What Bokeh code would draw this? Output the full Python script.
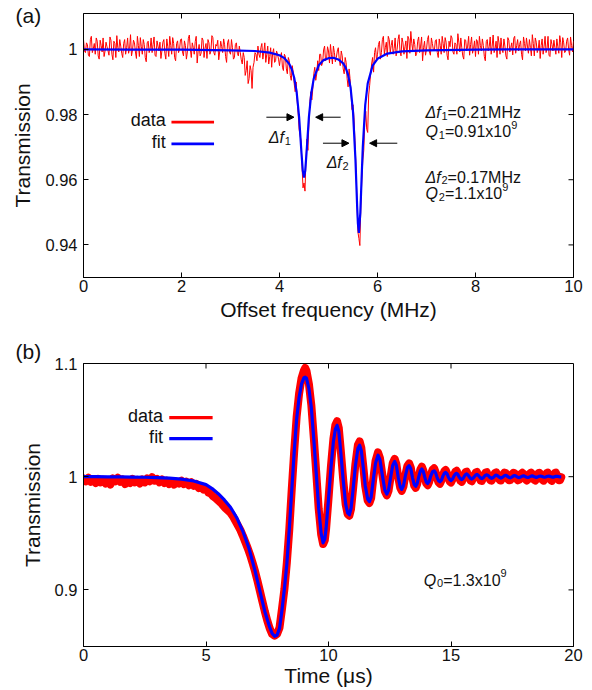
from bokeh.plotting import figure
from bokeh.layouts import column
from bokeh.models import FixedTicker, Label, Arrow, NormalHead, Range1d, Title
from bokeh.embed import file_html
from bokeh.resources import INLINE
import numpy as np

FONT = "Liberation Sans"
TXT = "#111111"

# ---------------- panel (a) data ----------------
x_ticks_a = [0, 2, 4, 6, 8, 10]
y_ticks_a = [0.94, 0.96, 0.98, 1.0]
y_tick_labels_a = ["0.94", "0.96", "0.98", "1"]

# measured transmission, sampled every 0.02 MHz from 0 to 10 MHz
data_trans_a = [
    1.0030, 0.9995, 0.9990, 1.0020, 1.0015, 0.9982, 0.9978, 1.0030, 1.0040, 0.9990, 1.0002, 1.0018, 0.9985, 1.0035, 1.0025, 0.9980, 0.9970, 1.0028, 1.0012, 0.9992,
    1.0035, 0.9978, 0.9995, 1.0022, 1.0008, 0.9996, 0.9982, 1.0038, 1.0028, 0.9985, 0.9968, 1.0025, 1.0018, 0.9975, 1.0042, 1.0005, 0.9992, 1.0030, 1.0010, 0.9988,
    0.9975, 1.0018, 1.0030, 0.9985, 1.0005, 1.0035, 0.9988, 1.0002, 1.0045, 0.9980, 0.9998, 1.0028, 1.0020, 0.9992, 0.9972, 1.0040, 1.0012, 0.9978, 1.0036, 1.0008,
    0.9985, 1.0030, 1.0015, 0.9975, 0.9962, 1.0020, 1.0025, 0.9990, 1.0002, 1.0035, 0.9990, 1.0015, 1.0038, 0.9982, 0.9978, 1.0026, 1.0010, 0.9995, 1.0022, 0.9972,
    0.9995, 1.0022, 1.0030, 0.9988, 0.9970, 1.0032, 1.0008, 0.9978, 1.0040, 1.0012, 0.9985, 1.0036, 1.0018, 0.9975, 0.9965, 1.0018, 1.0026, 0.9990, 1.0000, 1.0030,
    1.0032, 0.9992, 0.9980, 1.0026, 1.0012, 0.9970, 0.9992, 1.0034, 1.0044, 1.0000, 0.9975, 1.0020, 1.0006, 0.9985, 1.0024, 1.0040, 0.9958, 0.9996, 1.0015, 0.9980,
    0.9988, 1.0035, 1.0028, 0.9975, 1.0003, 1.0018, 0.9972, 1.0030, 1.0020, 0.9985, 0.9995, 1.0042, 1.0036, 0.9990, 0.9982, 1.0015, 1.0010, 1.0028, 0.9968, 0.9994,
    1.0025, 1.0008, 0.9990, 1.0032, 1.0014, 0.9978, 0.9960, 1.0020, 1.0030, 0.9992, 0.9985, 1.0030, 1.0005, 0.9970, 0.9975, 1.0015, 1.0020, 0.9988, 0.9980, 1.0010,
    0.9990, 0.9968, 0.9955, 0.9990, 0.9975, 0.9920, 0.9935, 0.9965, 0.9895, 0.9910, 0.9950, 0.9935, 0.9880, 0.9945, 0.9960, 0.9990, 0.9985, 0.9965, 1.0010, 0.9985,
    0.9975, 1.0005, 1.0018, 0.9970, 0.9992, 1.0020, 0.9960, 0.9985, 1.0010, 0.9955, 0.9978, 1.0005, 0.9945, 0.9988, 1.0002, 0.9960, 0.9965, 0.9995, 0.9985, 0.9970,
    0.9950, 0.9975, 0.9990, 0.9945, 0.9935, 0.9985, 0.9978, 0.9940, 0.9925, 0.9975, 0.9965, 0.9920, 0.9905, 0.9950, 0.9930, 0.9895, 0.9870, 0.9900, 0.9845, 0.9805,
    0.9755, 0.9735, 0.9720, 0.9640, 0.9575, 0.9590, 0.9565, 0.9660, 0.9725, 0.9690, 0.9770, 0.9840, 0.9870, 0.9845, 0.9880, 0.9925, 0.9945, 0.9905, 0.9925, 0.9965,
    0.9935, 0.9985, 0.9985, 0.9950, 0.9960, 0.9998, 1.0010, 0.9965, 0.9970, 1.0008, 0.9995, 0.9958, 1.0015, 0.9985, 0.9955, 1.0010, 0.9990, 0.9962, 0.9975, 0.9995,
    1.0005, 0.9968, 0.9950, 0.9995, 0.9980, 0.9940, 0.9925, 0.9975, 0.9960, 0.9910, 0.9885, 0.9940, 0.9910, 0.9865, 0.9815, 0.9830, 0.9790, 0.9720, 0.9640, 0.9540,
    0.9440, 0.9420, 0.9398, 0.9520, 0.9600, 0.9660, 0.9690, 0.9775, 0.9810, 0.9755, 0.9745, 0.9860, 0.9890, 0.9925, 0.9955, 0.9975, 0.9930, 0.9990, 1.0005, 0.9965,
    0.9985, 1.0015, 1.0025, 0.9970, 0.9990, 1.0030, 1.0040, 0.9985, 1.0005, 1.0022, 0.9978, 1.0040, 1.0030, 0.9990, 1.0012, 1.0028, 0.9985, 1.0002, 1.0035, 0.9980,
    1.0000, 1.0030, 1.0045, 0.9992, 0.9980, 1.0035, 1.0020, 0.9985, 1.0008, 1.0026, 0.9972, 1.0040, 1.0032, 0.9988, 1.0055, 1.0018, 0.9995, 1.0032, 1.0015, 0.9980,
    0.9988, 1.0025, 1.0038, 0.9990, 1.0010, 1.0038, 0.9965, 1.0005, 1.0025, 0.9982, 1.0000, 1.0030, 1.0042, 0.9992, 0.9982, 1.0035, 1.0018, 0.9998, 0.9995, 1.0026,
    1.0030, 0.9990, 0.9975, 1.0032, 1.0012, 0.9985, 1.0040, 1.0018, 0.9990, 1.0036, 1.0022, 0.9982, 0.9968, 1.0025, 1.0008, 1.0042, 1.0035, 0.9992, 0.9985, 1.0020,
    1.0015, 0.9985, 1.0048, 1.0022, 0.9992, 1.0035, 1.0005, 0.9980, 0.9970, 1.0030, 1.0028, 0.9995, 1.0010, 1.0040, 0.9982, 1.0015, 1.0038, 0.9988, 1.0002, 1.0026,
    0.9978, 1.0030, 1.0025, 0.9985, 1.0040, 1.0012, 0.9995, 1.0032, 1.0012, 0.9978, 0.9965, 1.0024, 1.0030, 0.9995, 1.0008, 1.0038, 0.9985, 1.0010, 1.0044, 0.9990,
    1.0002, 1.0025, 0.9975, 1.0040, 1.0020, 0.9985, 1.0035, 1.0002, 0.9990, 1.0032, 1.0010, 0.9980, 0.9970, 1.0036, 1.0028, 0.9992, 1.0005, 1.0020, 0.9983, 1.0034,
    1.0040, 0.9988, 1.0012, 1.0030, 0.9995, 1.0015, 1.0026, 0.9985, 0.9968, 1.0038, 1.0018, 0.9995, 1.0035, 1.0010, 0.9988, 1.0030, 1.0006, 0.9980, 1.0045, 1.0018,
    0.9980, 1.0035, 1.0022, 0.9990, 1.0000, 1.0028, 0.9972, 1.0012, 1.0032, 0.9985, 1.0010, 1.0040, 0.9990, 1.0002, 1.0040, 0.9982, 0.9978, 1.0030, 1.0015, 0.9995,
    1.0028, 1.0005, 0.9985, 1.0032, 1.0008, 0.9988, 1.0042, 1.0020, 0.9975, 1.0036, 1.0020, 0.9990, 0.9995, 1.0025, 1.0035, 1.0000, 0.9982, 1.0038, 1.0012, 0.9992, 1.0025,
]
data_freq_a = np.linspace(0.0, 10.0, len(data_trans_a))

fit_freq_a = [0, 1, 2, 3, 3.5, 3.8, 4.0, 4.1, 4.2, 4.25, 4.3, 4.35, 4.4, 4.45, 4.475, 4.5,
              4.525, 4.55, 4.6, 4.65, 4.7, 4.8, 4.9, 5.0, 5.1, 5.2, 5.3, 5.35, 5.4, 5.45,
              5.5, 5.55, 5.585, 5.6, 5.62, 5.65, 5.675, 5.7, 5.75, 5.8, 5.9, 6.0, 6.2,
              6.5, 7.0, 8.0, 9.0, 10.0]
fit_trans_a = [1.0000, 0.9999, 0.9999, 0.9997, 0.9995, 0.9990, 0.9982, 0.9973, 0.9955,
               0.9939, 0.9913, 0.9869, 0.9793, 0.9679, 0.9628, 0.9607, 0.9628, 0.9679,
               0.9792, 0.9867, 0.9911, 0.9951, 0.9967, 0.9973, 0.9974, 0.9969, 0.9957,
               0.9944, 0.9922, 0.9883, 0.9809, 0.9662, 0.9518, 0.9466, 0.9437, 0.9499,
               0.9602, 0.9700, 0.9830, 0.9895, 0.9950, 0.9971, 0.9987, 0.9994, 0.9997,
               0.9999, 1.0000, 1.0000]

# ---------------- panel (b) data ----------------
x_ticks_b = [0, 5, 10, 15, 20]
y_ticks_b = [0.9, 1.0, 1.1]
y_tick_labels_b = ["0.9", "1", "1.1"]

fit_points_b = [
    (0.0, 1.0000), (0.5, 1.0000), (1.0, 0.9999), (1.5, 0.9998), (2.0, 0.9997), (2.5, 0.9995),
    (3.0, 0.9992), (3.5, 0.9987), (4.0, 0.9978), (4.5, 0.9962), (5.0, 0.9930), (5.25, 0.9895),
    (5.5, 0.9850), (5.75, 0.9795), (6.0, 0.9730), (6.25, 0.9640), (6.5, 0.9520), (6.75, 0.9370),
    (7.0, 0.9170), (7.2, 0.8990), (7.4, 0.8810), (7.6, 0.8670), (7.7, 0.8615), (7.8, 0.8590),
    (7.9, 0.8600), (8.0, 0.8660), (8.1, 0.8820), (8.2, 0.9010), (8.3, 0.9230), (8.4, 0.9540),
    (8.5, 0.9880), (8.6, 1.0220), (8.7, 1.0510), (8.8, 1.0700), (8.9, 1.0820), (9.0, 1.0875),
    (9.05, 1.0880), (9.1, 1.0870), (9.2, 1.0780), (9.3, 1.0610), (9.4, 1.0330), (9.5, 1.0030),
    (9.6, 0.9720), (9.7, 0.9500), (9.78, 0.9416), (9.85, 0.9450), (9.9, 0.9540), (10.0, 0.9800),
    (10.1, 1.0080), (10.2, 1.0310), (10.28, 1.0420), (10.35, 1.0454), (10.42, 1.0400),
    (10.5, 1.0220), (10.6, 0.9970), (10.7, 0.9760), (10.78, 0.9680), (10.85, 0.9664),
    (10.92, 0.9720), (11.0, 0.9880), (11.1, 1.0100), (11.2, 1.0250), (11.27, 1.0278),
    (11.34, 1.0230), (11.42, 1.0080), (11.5, 0.9920), (11.6, 0.9800), (11.67, 0.9780),
    (11.74, 0.9820), (11.82, 0.9960), (11.92, 1.0120), (12.02, 1.0190), (12.1, 1.0150),
    (12.2, 1.0010), (12.3, 0.9880), (12.38, 0.9846), (12.45, 0.9880), (12.54, 1.0000),
    (12.62, 1.0100), (12.70, 1.0135), (12.77, 1.0100), (12.85, 0.9990), (12.93, 0.9910),
    (12.99, 0.9888), (13.06, 0.9920), (13.14, 1.0010), (13.22, 1.0080), (13.29, 1.0098),
    (13.36, 1.0070), (13.43, 0.9990), (13.50, 0.9930), (13.56, 0.9916), (13.62, 0.9940),
    (13.69, 1.0005), (13.75, 1.0050), (13.81, 1.0068), (13.87, 1.0045), (13.93, 0.9995),
    (13.99, 0.9952), (14.05, 0.9940), (14.11, 0.9960), (14.18, 1.0010), (14.25, 1.0045),
    (14.31, 1.0052), (14.37, 1.0035), (14.43, 0.9995), (14.49, 0.9965), (14.55, 0.9955),
    (14.61, 0.9970), (14.67, 1.0005), (14.73, 1.0030), (14.78, 1.0038), (14.84, 1.0025),
    (14.89, 0.9998), (14.95, 0.9975), (15.00, 0.9965), (15.06, 0.9978), (15.12, 1.0005),
    (15.18, 1.0025), (15.23, 1.0030), (15.28, 1.0020), (15.33, 0.9998), (15.39, 0.9980),
    (15.44, 0.9974), (15.49, 0.9984), (15.54, 1.0002), (15.59, 1.0018), (15.64, 1.0024),
    (15.69, 1.0015), (15.75, 0.9998), (15.80, 0.9984), (15.85, 0.9979), (15.90, 0.9987),
    (15.96, 1.0002), (16.01, 1.0015), (16.06, 1.0020), (16.11, 1.0013), (16.16, 1.0000),
    (16.21, 0.9988), (16.26, 0.9983), (16.31, 0.9990), (16.36, 1.0002), (16.41, 1.0013),
    (16.46, 1.0017), (16.51, 1.0011), (16.56, 1.0000), (16.61, 0.9990), (16.66, 0.9986),
    (16.71, 0.9991), (16.76, 1.0001), (16.80, 1.0010), (16.85, 1.0014), (16.90, 1.0009),
    (16.95, 1.0000), (17.00, 0.9992), (17.04, 0.9988), (17.09, 0.9993), (17.14, 1.0001),
    (17.18, 1.0008), (17.23, 1.0012), (17.28, 1.0008), (17.32, 1.0000), (17.37, 0.9993),
    (17.42, 0.9990), (17.46, 0.9994), (17.51, 1.0001), (17.55, 1.0007), (17.60, 1.0010),
    (17.64, 1.0007), (17.69, 1.0000), (17.73, 0.9995), (17.78, 0.9992), (17.82, 0.9995),
    (17.87, 1.0001), (17.91, 1.0006), (17.96, 1.0008), (18.00, 1.0005), (18.05, 1.0000),
    (18.09, 0.9995), (18.14, 0.9993), (18.18, 0.9996), (18.23, 1.0001), (18.27, 1.0005),
    (18.31, 1.0007), (18.35, 1.0005), (18.40, 1.0000), (18.44, 0.9996), (18.48, 0.9994),
    (18.52, 0.9996), (18.57, 1.0001), (18.61, 1.0004), (18.65, 1.0006), (18.69, 1.0004),
    (18.74, 1.0000), (18.78, 0.9997), (18.82, 0.9995), (18.86, 0.9997), (18.91, 1.0001),
    (18.95, 1.0004), (18.99, 1.0005), (19.03, 1.0003), (19.08, 1.0000), (19.12, 0.9997),
    (19.16, 0.9996), (19.20, 0.9997), (19.25, 1.0001), (19.28, 1.0003), (19.32, 1.0004),
    (19.36, 1.0003), (19.41, 1.0000), (19.45, 0.9998), (19.50, 0.9998),
]

data_points_b = [
    (0.0, 0.9985), (0.1, 0.9960), (0.2, 0.9990), (0.3, 0.9955), (0.4, 0.9975), (0.5, 0.9945),
    (0.6, 0.9980), (0.7, 0.9950), (0.8, 0.9970), (0.9, 0.9940), (1.0, 0.9965), (1.1, 0.9930),
    (1.2, 0.9985), (1.3, 0.9960), (1.4, 0.9990), (1.5, 0.9955), (1.6, 0.9975), (1.7, 0.9935),
    (1.8, 0.9960), (1.9, 0.9945), (2.0, 0.9980), (2.1, 0.9950), (2.2, 0.9970), (2.3, 0.9940),
    (2.4, 0.9975), (2.5, 0.9950), (2.6, 0.9985), (2.7, 0.9960), (2.8, 0.9995), (2.9, 0.9965),
    (3.0, 0.9980), (3.1, 0.9950), (3.2, 0.9975), (3.3, 0.9945), (3.4, 0.9965), (3.5, 0.9935),
    (3.6, 0.9960), (3.7, 0.9930), (3.8, 0.9955), (3.9, 0.9940), (4.0, 0.9965), (4.1, 0.9935),
    (4.2, 0.9955), (4.3, 0.9925), (4.4, 0.9950), (4.5, 0.9920), (4.6, 0.9935), (4.7, 0.9900),
    (4.8, 0.9915), (4.9, 0.9885), (5.0, 0.9895), (5.1, 0.9860), (5.2, 0.9850), (5.3, 0.9825),
    (5.4, 0.9810), (5.5, 0.9790), (5.6, 0.9770), (5.7, 0.9745), (5.8, 0.9720), (5.9, 0.9700),
    (6.0, 0.9680), (6.1, 0.9650), (6.2, 0.9610), (6.3, 0.9570), (6.4, 0.9530), (6.5, 0.9480),
    (6.6, 0.9425), (6.7, 0.9370), (6.8, 0.9310), (6.9, 0.9240), (7.0, 0.9165), (7.1, 0.9080),
    (7.2, 0.8990), (7.3, 0.8900), (7.4, 0.8810), (7.5, 0.8730), (7.6, 0.8660), (7.7, 0.8610),
    (7.8, 0.8595), (7.9, 0.8610), (8.0, 0.8665), (8.1, 0.8830), (8.2, 0.9005), (8.3, 0.9240),
    (8.4, 0.9535), (8.5, 0.9890), (8.6, 1.0225), (8.7, 1.0530), (8.8, 1.0735), (8.9, 1.0870),
    (9.0, 1.0940), (9.05, 1.0960), (9.1, 1.0935), (9.2, 1.0820), (9.3, 1.0630), (9.4, 1.0345),
    (9.5, 1.0035), (9.6, 0.9715), (9.7, 0.9490), (9.78, 0.9405), (9.85, 0.9440), (9.9, 0.9535),
    (10.0, 0.9805), (10.1, 1.0095), (10.2, 1.0335), (10.28, 1.0455), (10.35, 1.0490),
    (10.42, 1.0430), (10.5, 1.0235), (10.6, 0.9975), (10.7, 0.9755), (10.78, 0.9670),
    (10.85, 0.9655), (10.92, 0.9715), (11.0, 0.9885), (11.1, 1.0115), (11.2, 1.0280),
    (11.27, 1.0312), (11.34, 1.0255), (11.42, 1.0090), (11.5, 0.9915), (11.6, 0.9790),
    (11.67, 0.9768), (11.74, 0.9810), (11.82, 0.9965), (11.92, 1.0140), (12.02, 1.0215),
    (12.1, 1.0165), (12.2, 1.0015), (12.3, 0.9872), (12.38, 0.9835), (12.45, 0.9875),
    (12.54, 1.0005), (12.62, 1.0118), (12.70, 1.0158), (12.77, 1.0112), (12.85, 0.9988),
    (12.93, 0.9900), (12.99, 0.9875), (13.06, 0.9915), (13.14, 1.0018), (13.22, 1.0095),
    (13.29, 1.0118), (13.36, 1.0080), (13.43, 0.9985), (13.50, 0.9920), (13.56, 0.9902),
    (13.62, 0.9935), (13.69, 1.0010), (13.75, 1.0065), (13.81, 1.0088), (13.87, 1.0055),
    (13.93, 0.9990), (13.99, 0.9940), (14.05, 0.9925), (14.11, 0.9955), (14.18, 1.0020),
    (14.25, 1.0062), (14.31, 1.0075), (14.37, 1.0040), (14.43, 0.9985), (14.49, 0.9950),
    (14.55, 0.9938), (14.61, 0.9968), (14.67, 1.0015), (14.73, 1.0048), (14.78, 1.0060),
    (14.84, 1.0030), (14.89, 0.9990), (14.95, 0.9958), (15.00, 0.9948), (15.06, 0.9975),
    (15.12, 1.0015), (15.18, 1.0045), (15.23, 1.0052), (15.28, 1.0025), (15.33, 0.9990),
    (15.39, 0.9962), (15.44, 0.9955), (15.49, 0.9980), (15.54, 1.0012), (15.59, 1.0040),
    (15.64, 1.0045), (15.69, 1.0018), (15.75, 0.9988), (15.80, 0.9965), (15.85, 0.9960),
    (15.90, 0.9985), (15.96, 1.0015), (16.01, 1.0038), (16.06, 1.0042), (16.11, 1.0015),
    (16.16, 0.9990), (16.21, 0.9965), (16.26, 0.9962), (16.31, 0.9988), (16.36, 1.0018),
    (16.41, 1.0035), (16.46, 1.0040), (16.51, 1.0012), (16.56, 0.9985), (16.61, 0.9968),
    (16.66, 0.9965), (16.71, 0.9990), (16.76, 1.0020), (16.80, 1.0035), (16.85, 1.0038),
    (16.90, 1.0010), (16.95, 0.9982), (17.00, 0.9968), (17.04, 0.9966), (17.09, 0.9992),
    (17.14, 1.0022), (17.18, 1.0036), (17.23, 1.0034), (17.28, 1.0008), (17.32, 0.9980),
    (17.37, 0.9968), (17.42, 0.9970), (17.46, 0.9995), (17.51, 1.0025), (17.55, 1.0034),
    (17.60, 1.0030), (17.64, 1.0004), (17.69, 0.9978), (17.73, 0.9968), (17.78, 0.9972),
    (17.82, 0.9998), (17.87, 1.0028), (17.91, 1.0035), (17.96, 1.0026), (18.00, 1.0000),
    (18.05, 0.9975), (18.09, 0.9966), (18.14, 0.9974), (18.18, 1.0002), (18.23, 1.0030),
    (18.27, 1.0036), (18.31, 1.0024), (18.35, 0.9998), (18.40, 0.9972), (18.44, 0.9966),
    (18.48, 0.9976), (18.52, 1.0004), (18.57, 1.0032), (18.61, 1.0035), (18.65, 1.0022),
    (18.69, 0.9996), (18.74, 0.9970), (18.78, 0.9965), (18.82, 0.9978), (18.86, 1.0006),
    (18.91, 1.0033), (18.95, 1.0036), (18.99, 1.0020), (19.03, 0.9994), (19.08, 0.9968),
    (19.12, 0.9964), (19.16, 0.9980), (19.20, 1.0008), (19.25, 1.0034), (19.28, 1.0036),
    (19.32, 1.0018), (19.36, 0.9992), (19.41, 0.9968), (19.45, 0.9970), (19.50, 0.9995),
]
fit_time_b = [t for t, _ in fit_points_b]
fit_trans_b = [v for _, v in fit_points_b]
data_time_b = [t for t, _ in data_points_b]
data_trans_b = [v for _, v in data_points_b]

# ---------------- helpers ----------------
ADV = {'0': .556, '1': .556, '2': .556, '3': .556, '4': .556, '5': .556, '6': .556,
       '7': .556, '8': .556, '9': .556, '.': .278, '=': .584, 'x': .5, 'M': .833,
       'H': .722, 'z': .5, 'Q': .778, 'Δ': .668, 'f': .278}


def tw(s, size):
    return sum(ADV.get(c, .556) for c in s) * size


def rich(p, x, y, parts):
    dx = 0.0
    for text, italic, size, dy in parts:
        p.add_layout(Label(x=x, y=y, x_offset=dx, y_offset=dy, text=text,
                           text_font=FONT, text_font_size=f"{size}px",
                           text_font_style="italic" if italic else "normal",
                           text_baseline="alphabetic", text_align="left",
                           text_color=TXT))
        dx += tw(text, size) + (0.8 if italic else 0.0)


def style_axes(p, xticks, yticks, ylabels, xlabel, ylabel, x_std, xl_std, fw, fh):
    xa = p.below[0]
    ya = p.left[0]
    xa.ticker = FixedTicker(ticks=xticks)
    ya.ticker = FixedTicker(ticks=yticks)
    ya.major_label_overrides = {t: l for t, l in zip(yticks, ylabels)}
    for ax in [xa, ya]:
        ax.major_tick_in = 5
        ax.major_tick_out = 0
        ax.minor_tick_line_color = None
        ax.axis_line_color = "black"
        ax.major_tick_line_color = "black"
        ax.major_label_text_font = FONT
        ax.major_label_text_font_size = "16.5px"
        ax.major_label_text_color = TXT
        ax.axis_label_text_font = FONT
        ax.axis_label_text_font_size = "21px"
        ax.axis_label_text_font_style = "normal"
        ax.axis_label_text_color = TXT
    xa.axis_label = xlabel
    ya.axis_label = ylabel
    xa.major_label_standoff = x_std
    xa.axis_label_standoff = xl_std
    ya.major_label_standoff = 6
    ya.axis_label_standoff = 8
    p.grid.visible = False
    p.outline_line_color = "black"
    p.outline_line_width = 1
    p.background_fill_color = "white"
    p.border_fill_color = "white"
    # inward ticks on the top and right frame edges (mirror of the axes' ticks)
    x0, x1 = p.x_range.start, p.x_range.end
    y0, y1 = p.y_range.start, p.y_range.end
    dy = 5 * (y1 - y0) / fh
    dx = 5 * (x1 - x0) / fw
    inner_x = [t for t in xticks if x0 < t < x1]
    inner_y = [t for t in yticks if y0 < t < y1]
    p.segment(x0=inner_x, y0=[y1] * len(inner_x), x1=inner_x, y1=[y1 - dy] * len(inner_x),
              line_color="black", line_width=1)
    p.segment(x0=[x1] * len(inner_y), y0=inner_y, x1=[x1 - dx] * len(inner_y), y1=inner_y,
              line_color="black", line_width=1)


def panel_tag(p, text, standoff):
    p.add_layout(Title(text=text, align="left", offset=-68, standoff=standoff,
                       text_font=FONT, text_font_size="21px", text_font_style="normal",
                       text_color=TXT, vertical_align="bottom"), "above")


# ---------------- figure (a) ----------------
p1 = figure(width=592, height=330, x_range=Range1d(0, 10), y_range=Range1d(0.93, 1.011),
            output_backend="svg", toolbar_location=None,
            min_border_left=83, min_border_right=19, min_border_top=13, min_border_bottom=53)
style_axes(p1, x_ticks_a, y_ticks_a, y_tick_labels_a, "Offset frequency (MHz)", "Transmission",
           2, 3, 490, 264)
p1.line(data_freq_a, data_trans_a, line_color="#ff0000", line_width=1.0, line_join="round")
p1.line(fit_freq_a, fit_trans_a, line_color="#0000ff", line_width=2.2)

# legend (a)
p1.segment(x0=[1.795], y0=[0.97765], x1=[2.664], y1=[0.97765], line_color="#ff0000", line_width=2.7)
p1.segment(x0=[1.795], y0=[0.97102], x1=[2.664], y1=[0.97102], line_color="#0000ff", line_width=2.7)
for txt, yy in [("data", 0.97765), ("fit", 0.97102)]:
    p1.add_layout(Label(x=1.68, y=yy, y_offset=2, text=txt, text_font=FONT, text_font_size="18px",
                        text_align="right", text_baseline="middle", text_color=TXT))

# arrows (a)
for xs, xe, yy in [(3.732, 4.295, 0.97918), (5.248, 4.738, 0.97918),
                   (4.887, 5.417, 0.9712), (6.404, 5.839, 0.9712)]:
    p1.add_layout(Arrow(end=NormalHead(size=7, line_color="black", fill_color="black", line_width=1),
                        x_start=xs, y_start=yy, x_end=xe, y_end=yy,
                        line_color="black", line_width=1))

rich(p1, 3.78, 0.97295, [("Δf", True, 16, 0), ("1", False, 11, -3)])
rich(p1, 4.962, 0.96528, [("Δf", True, 16, 0), ("2", False, 11, -3)])
rich(p1, 6.98, 0.98053, [("Δf", True, 16, 0), ("1", False, 11, -3), ("=0.21MHz", False, 16, 0)])
rich(p1, 6.98, 0.97479, [("Q", True, 16, 0), ("1", False, 11, -3), ("=0.91x10", False, 16, 0),
                         ("9", False, 11, 7)])
rich(p1, 6.98, 0.96077, [("Δf", True, 16, 0), ("2", False, 11, -3), ("=0.17MHz", False, 16, 0)])
rich(p1, 6.98, 0.95568, [("Q", True, 16, 0), ("2", False, 11, -3), ("=1.1x10", False, 16, 0),
                         ("9", False, 11, 7)])
panel_tag(p1, "(a)", -27)

# ---------------- figure (b) ----------------
p2 = figure(width=592, height=360, x_range=Range1d(0, 20), y_range=Range1d(0.85, 1.1),
            output_backend="svg", toolbar_location=None,
            min_border_left=83, min_border_right=19, min_border_top=33, min_border_bottom=44)
style_axes(p2, x_ticks_b, y_ticks_b, y_tick_labels_b, "Time (μs)", "Transmission", 2, 0, 490, 283)
p2.line(data_time_b, data_trans_b, line_color="#ff0000", line_width=8, line_join="round",
        line_cap="round")
p2.line(fit_time_b, fit_trans_b, line_color="#0000ff", line_width=3.2, line_join="round")

p2.segment(x0=[3.50], y0=[1.0521], x1=[5.27], y1=[1.0521], line_color="#ff0000", line_width=3.3)
p2.segment(x0=[3.50], y0=[1.0337], x1=[5.27], y1=[1.0337], line_color="#0000ff", line_width=3.3)
for txt, yy in [("data", 1.0521), ("fit", 1.0337)]:
    p2.add_layout(Label(x=3.25, y=yy, y_offset=2, text=txt, text_font=FONT, text_font_size="18px",
                        text_align="right", text_baseline="middle", text_color=TXT))

rich(p2, 13.89, 0.9085, [("Q", True, 16, 0), ("0", False, 11, -3), ("=1.3x10", False, 16, 0),
                         ("9", False, 11, 7)])
panel_tag(p2, "(b)", 1)

layout = column(p1, p2, spacing=0)
open("out.html", "w").write(file_html(layout, INLINE))
